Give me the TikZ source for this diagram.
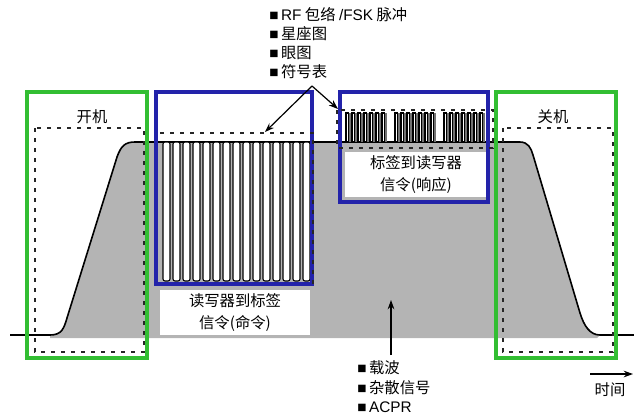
\documentclass[tikz,border=0pt]{standalone}
\usepackage{fontspec}
\newfontfamily\cjk{Noto Sans CJK SC}
\newfontfamily\lat{Liberation Sans}
\usetikzlibrary{arrows.meta}
\definecolor{sig}{RGB}{180,180,180}
\definecolor{grn}{RGB}{50,190,50}
\definecolor{blu}{RGB}{35,35,170}
\begin{document}
\begin{tikzpicture}[x=0.75pt,y=-0.75pt,
  font=\cjk\fontsize{11.5}{16.5}\selectfont,
  greenbox/.style={draw=grn, line width=2.6pt},
  bluebox/.style={draw=blu, line width=2.6pt},
  dashbox/.style={draw=black!85, line width=1.3pt, dash pattern=on 3pt off 4.5pt},
  pulse/.style={draw=black, fill=white, line width=0.8pt, rounded corners=1.5pt},
  smallpulse/.style={draw=black, fill=white, line width=0.8pt},
  labelbox/.style={fill=white, inner sep=0pt, align=center},
  lbl/.style={inner sep=0pt, anchor=west},
  ptr/.style={-{Stealth[length=7pt,width=5pt]}, line width=0.9pt},
  envelope/.style={line width=1.2pt}]
\useasboundingbox (0,0) rectangle (634,415);
% gray carrier region
\fill[sig] (50,338) -- (50,335) .. controls (62,335) and (64,328) .. (67,318) -- (117,157)
  .. controls (121,146) and (125,142) .. (135,142) -- (520,142)
  .. controls (528,142) and (531,148) .. (533,155) -- (580,313)
  .. controls (584,326) and (590,335) .. (600,335) -- (597,338) -- cycle;
\draw[envelope] (10,335) -- (50,335) .. controls (62,335) and (64,328) .. (67,318) -- (117,157)
  .. controls (121,146) and (125,142) .. (135,142) -- (520,142)
  .. controls (528,142) and (531,148) .. (533,155) -- (580,313)
  .. controls (584,326) and (590,335) .. (600,335) -- (634,335);
% command pulses
\foreach \i in {0,...,14}
  \draw[pulse] ({163+10*\i},142) rectangle ({170+10*\i},281);
% response pulses
\foreach \g in {345,394,443}{
  \fill[black!55] (\g,113) rectangle ({\g+42},142);
  \foreach \i in {0,...,6}
    \draw[smallpulse] ({\g+6*\i+1},113) rectangle ({\g+6*\i+3.5},142);
}
% label boxes
\node[labelbox, minimum width=112.5pt, minimum height=33.75pt] (cmd) at (235,312.5) {读写器到标签\\信令(命令)};
\node[labelbox, minimum width=106.5pt, minimum height=33.75pt] (rsp) at (416,174.5) {标签到读写器\\信令(响应)};
% blue boxes
\draw[bluebox] (156,92) rectangle (312,284);
\draw[bluebox] (340,92) rectangle (488,202);
% green boxes
\draw[greenbox] (27,92) rectangle (147,358);
\draw[greenbox] (496,92) rectangle (616,358);
% dashed boxes
\draw[dashbox] (35,128) rectangle (144,352);
\draw[dashbox] (503,128) rectangle (613,352);
\draw[dashbox] (160,133) -- (313,133) -- (313,284);
\draw[dashbox] (337,110) rectangle (493,148);
% labels
\node (on) at (92,117) {开机};
\node (off) at (553,117) {关机};
\node[lbl] (b1) at (269,15) {{\lat ■\,RF} 包络 {\lat /FSK} 脉冲};
\node[lbl] (b2) at (269,34) {{\lat ■\,}星座图};
\node[lbl] (b3) at (269,53) {{\lat ■\,}眼图};
\node[lbl] (b4) at (269,72) {{\lat ■\,}符号表};
\node[lbl] (c1) at (357,368) {{\lat ■\,}载波};
\node[lbl] (c2) at (357,388) {{\lat ■\,}杂散信号};
\node[lbl] (c3) at (357,407) {{\lat ■\,ACPR}};
\node (time) at (610,390) {时间};
% arrows
\coordinate (apex) at (312,86);
\coordinate (t1) at (265,132);
\coordinate (t2) at (338,109);
\draw[ptr] (apex) -- (t1);
\draw[ptr] (apex) -- (t2);
\coordinate (cb) at (391,355);
\coordinate (ct) at (391,300);
\draw[ptr] (cb) -- (ct);
\coordinate (ta) at (590,374);
\coordinate (tb) at (633,374);
\draw[ptr] (ta) -- (tb);
\end{tikzpicture}
\end{document}
